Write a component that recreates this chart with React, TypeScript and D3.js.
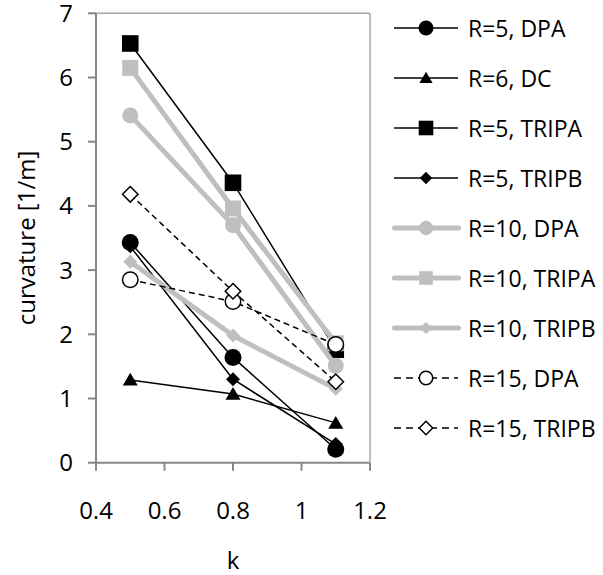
import React from "react";
import * as d3 from "d3";

const kValues = [0.5, 0.8, 1.1];
const seriesNames = [
  "R=5, DPA",
  "R=6, DC",
  "R=5, TRIPA",
  "R=5, TRIPB",
  "R=10, DPA",
  "R=10, TRIPA",
  "R=10, TRIPB",
  "R=15, DPA",
  "R=15, TRIPB",
];
const r5DPA = [3.43, 1.64, 0.21];
const r6DC = [1.29, 1.07, 0.62];
const r5TRIPA = [6.53, 4.36, 1.76];
const r5TRIPB = [3.37, 1.3, 0.29];
const r10DPA = [5.41, 3.7, 1.51];
const r10TRIPA = [6.15, 3.96, 1.86];
const r10TRIPB = [3.13, 1.98, 1.15];
const r15DPA = [2.85, 2.51, 1.84];
const r15TRIPB = [4.18, 2.67, 1.26];
const seriesValues = [r5DPA, r6DC, r5TRIPA, r5TRIPB, r10DPA, r10TRIPA, r10TRIPB, r15DPA, r15TRIPB];
const yTicks = [0, 1, 2, 3, 4, 5, 6, 7];
const xTicks = [0.4, 0.6, 0.8, 1, 1.2];

type Style = {
  color: string;
  width: number;
  dash?: string;
  shape: "circle" | "triangle" | "square" | "diamond";
  fill: string;
  size: number;
  legendScale: number;
};

const GRAY = "#bfbfbf";
const styles: Style[] = [
  { color: "#000", width: 1.5, shape: "circle", fill: "#000", size: 8.5, legendScale: 0.88 },
  { color: "#000", width: 1.5, shape: "triangle", fill: "#000", size: 7.5, legendScale: 0.88 },
  { color: "#000", width: 1.5, shape: "square", fill: "#000", size: 8.3, legendScale: 0.88 },
  { color: "#000", width: 1.5, shape: "diamond", fill: "#000", size: 7, legendScale: 0.88 },
  { color: GRAY, width: 5, shape: "circle", fill: GRAY, size: 8, legendScale: 0.9 },
  { color: GRAY, width: 5, shape: "square", fill: GRAY, size: 8, legendScale: 0.85 },
  { color: GRAY, width: 5, shape: "diamond", fill: GRAY, size: 7, legendScale: 0.85 },
  { color: "#000", width: 1.5, dash: "6,4", shape: "circle", fill: "#fff", size: 8.5, legendScale: 0.88 },
  { color: "#000", width: 1.5, dash: "6,4", shape: "diamond", fill: "#fff", size: 8.5, legendScale: 0.88 },
];

function Marker({ s, x, y, scale = 1 }: { s: Style; x: number; y: number; scale?: number }) {
  const r = s.size * scale;
  const open = s.fill === "#fff";
  const common = {
    fill: s.fill,
    stroke: open ? "#000" : "none",
    strokeWidth: open ? 1.5 : 0,
  };
  if (s.shape === "circle") return <circle cx={x} cy={y} r={open ? r - 0.75 : r} {...common} />;
  if (s.shape === "square") return <rect x={x - r} y={y - r} width={2 * r} height={2 * r} {...common} />;
  if (s.shape === "diamond") {
    const rr = open ? r - 0.75 : r;
    const p = `M${x},${y - rr}L${x + rr},${y}L${x},${y + rr}L${x - rr},${y}Z`;
    return <path d={p} {...common} />;
  }
  const h = r * 1.7;
  const p = `M${x},${y - h * 0.55}L${x + r},${y + h * 0.45}L${x - r},${y + h * 0.45}Z`;
  return <path d={p} {...common} />;
}

export default function App() {
  const W = 603;
  const H = 575;
  const x = d3.scaleLinear().domain([0.4, 1.2]).range([96, 370]);
  const y = d3.scaleLinear().domain([0, 7]).range([462.7, 13.3]);
  const line = d3
    .line<number>()
    .x((_, i) => x(kValues[i]))
    .y((d) => y(d));
  const font = "'Open Sans', sans-serif";
  const axisColor = "#868686";

  return (
    <div style={{ position: "absolute", left: 0, top: 0 }}>
      <svg width={W} height={H} style={{ display: "block", background: "#fff" }}>
        <rect width={W} height={H} fill="#fff" />
        <line x1={x(0.4)} x2={x(1.2)} y1={y(7)} y2={y(7)} stroke="#a6a6a6" strokeWidth={1.5} />
        <line x1={x(1.2)} x2={x(1.2)} y1={y(7)} y2={y(0)} stroke="#a6a6a6" strokeWidth={1.5} />
        <line x1={x(0.4)} x2={x(0.4)} y1={y(7)} y2={y(0)} stroke={axisColor} strokeWidth={2} />
        <line x1={x(0.4)} x2={x(1.2)} y1={y(0)} y2={y(0)} stroke={axisColor} strokeWidth={2} />
        {yTicks.map((t) => (
          <g key={"y" + t}>
            <line x1={x(0.4) - 8} x2={x(0.4)} y1={y(t)} y2={y(t)} stroke={axisColor} strokeWidth={2} />
            <text x={73} y={y(t) + 8.5} textAnchor="end" fontFamily={font} fontSize={24} fill="#000">
              {t}
            </text>
          </g>
        ))}
        {xTicks.map((t) => (
          <g key={"x" + t}>
            <line x1={x(t)} x2={x(t)} y1={y(0)} y2={y(0) + 8} stroke={axisColor} strokeWidth={2} />
            <text x={x(t)} y={518.5} textAnchor="middle" fontFamily={font} fontSize={24} fill="#000">
              {d3.format("")(t)}
            </text>
          </g>
        ))}
        <text x={x(0.8)} y={569} textAnchor="middle" fontFamily={font} fontSize={24} fill="#000">
          k
        </text>
        <text
          transform={`translate(35, ${(y(0) + y(7)) / 2}) rotate(-90)`}
          textAnchor="middle"
          fontFamily={font}
          fontSize={24}
          fill="#000"
        >
          curvature [1/m]
        </text>
        {seriesValues.map((vals, si) => {
          const s = styles[si];
          return (
            <g key={"s" + si}>
              <path
                d={line(vals) || ""}
                fill="none"
                stroke={s.color}
                strokeWidth={s.width}
                strokeDasharray={s.dash}
                strokeLinejoin="round"
                strokeLinecap={s.width > 2 ? "round" : "butt"}
              />
              {vals.map((v, i) => (
                <Marker key={i} s={s} x={x(kValues[i])} y={y(v)} />
              ))}
            </g>
          );
        })}
        {seriesNames.map((name, si) => {
          const s = styles[si];
          const cy = 28 + si * 50;
          const wide = s.width > 2;
          return (
            <g key={"l" + si}>
              <line
                x1={wide ? 394.5 : 394}
                x2={wide ? 458.5 : 458}
                y1={cy}
                y2={cy}
                stroke={s.color}
                strokeWidth={s.width}
                strokeLinecap={wide ? "round" : "butt"}
                strokeDasharray={s.dash ? "7,5" : undefined}
              />
              <Marker s={s} x={426} y={cy} scale={s.legendScale} />
              <text x={468} y={cy + 8.5} fontFamily={font} fontSize={23} fill="#000">
                {name}
              </text>
            </g>
          );
        })}
      </svg>
    </div>
  );
}
